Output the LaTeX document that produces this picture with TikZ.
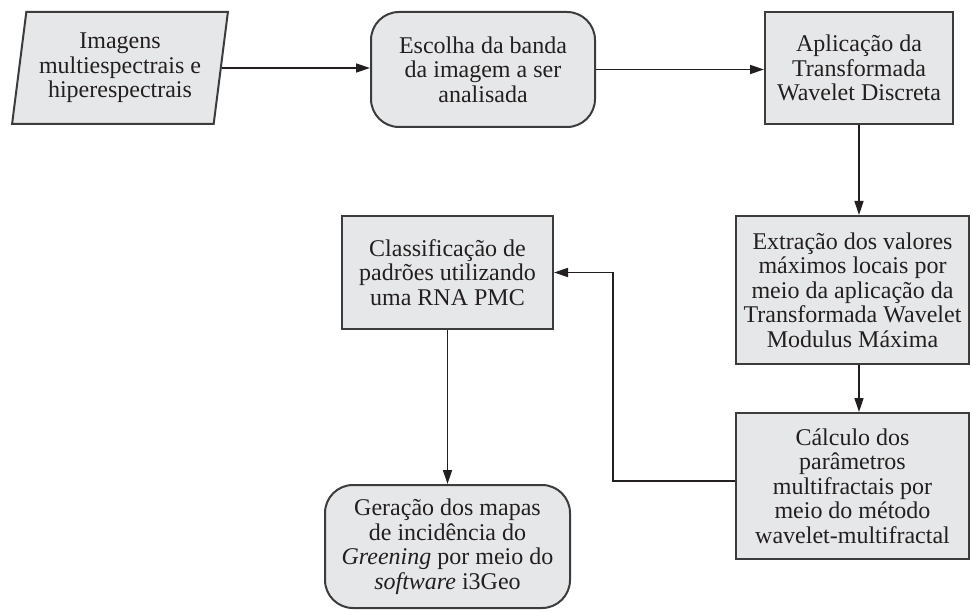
\documentclass[tikz,border=0pt]{standalone}
\usepackage{fontspec}
\setmainfont{Liberation Serif}
\usetikzlibrary{arrows.meta,shapes.geometric}
\definecolor{boxfill}{RGB}{230,231,232}
\definecolor{boxline}{RGB}{60,60,60}
\definecolor{txt}{RGB}{35,31,32}
\begin{document}
\begin{tikzpicture}[x=1pt,y=-1pt,
  box/.style={draw=boxline, line width=2pt, fill=boxfill, text=txt, align=center,
    font=\fontsize{24}{24.5}\selectfont, inner sep=0pt},
  sq/.style={box, rectangle},
  rnd/.style={box, rectangle, rounded corners=28pt},
  arr/.style={-{Triangle[length=14pt,width=9pt]}, line width=1.4pt, draw=txt}
]
\useasboundingbox[fill=white] (0,0) rectangle (971,612);
\node[box, trapezium, trapezium left angle=80, trapezium right angle=100,
  trapezium stretches=true, minimum width=216pt, minimum height=112pt]
  (n1) at (120,68) {Imagens\\multiespectrais e\\hiperespectrais};
\node[rnd, minimum width=224pt, minimum height=115pt] (n2) at (483,69.5)
  {Escolha da banda\\da imagem a ser\\analisada};
\node[sq, minimum width=188pt, minimum height=112pt] (n3) at (859,68)
  {Aplicação da\\Transformada\\Wavelet Discreta};
\node[sq, minimum width=233pt, minimum height=148pt] (n4) at (852.5,290)
  {Extração dos valores\\máximos locais por\\meio da aplicação da\\Transformada Wavelet\\Modulus Máxima};
\node[sq, minimum width=233pt, minimum height=146pt] (n5) at (852.5,486)
  {Cálculo dos\\parâmetros\\multifractais por\\meio do método\\wavelet-multifractal};
\node[sq, minimum width=211pt, minimum height=113pt] (n6) at (447.5,272.5)
  {Classificação de\\padrões utilizando\\uma RNA PMC};
\node[rnd, minimum width=245pt, minimum height=123pt] (n7) at (447.5,546.5)
  {Geração dos mapas\\de incidência do\\\textit{Greening} por meio do\\\textit{software} i3Geo};
\draw[arr] (n1.east) -- (n1.east -| n2.west);
\draw[arr] (n2.east) -- (n2.east -| n3.west);
\draw[arr] (n3.south) -- (n3.south |- n4.north);
\draw[arr] (n3.south |- n4.south) -- (n3.south |- n5.north);
\draw[arr] ([yshift=5pt]n5.west) -- ++(-122,0) |- (n6.east);
\draw[arr] (n6.south) -- (n6.south |- n7.north);
\end{tikzpicture}
\end{document}
